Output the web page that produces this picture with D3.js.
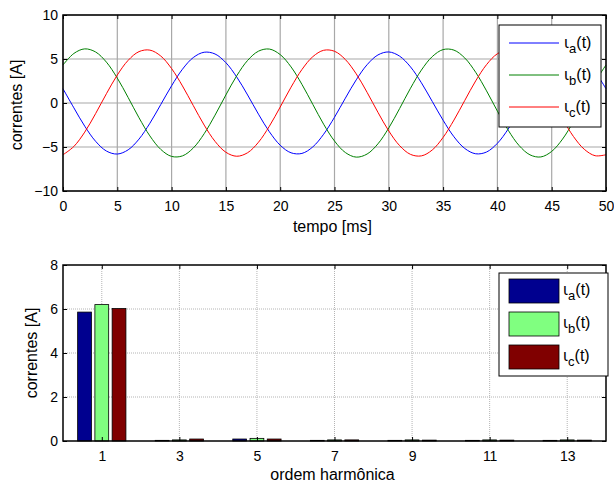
<!DOCTYPE html>
<html>
<head>
<meta charset="utf-8">
<script src="https://cdn.jsdelivr.net/npm/d3@7"></script>
<style>
  body { margin: 0; background: #fff; }
  text { font-family: "Liberation Sans", Arial, sans-serif; }
</style>
</head>
<body>
<div class="chart"></div>
<script>
// time axis, 1 ms steps
const tempo = d3.range(0, 51);
const ia = [1.62,-0.55,-2.63,-4.35,-5.46,-5.80,-5.32,-4.10,-2.30,-0.18,1.96,3.84,5.17,5.77,5.57,4.58,2.95,0.91,-1.27,-3.26,-4.80,-5.66,-5.73,-4.99,-3.55,-1.62,0.55,2.63,4.35,5.46,5.80,5.32,4.10,2.30,0.18,-1.96,-3.84,-5.17,-5.77,-5.57,-4.58,-2.95,-0.91,1.27,3.26,4.80,5.66,5.73,4.99,3.55,1.62];
const ib = [4.32,5.63,6.15,5.80,4.64,2.83,0.62,-1.68,-3.74,-5.27,-6.07,-6.01,-5.11,-3.49,-1.38,0.92,3.10,4.84,5.89,6.13,5.50,4.10,2.12,-0.15,-2.41,-4.32,-5.63,-6.15,-5.80,-4.64,-2.83,-0.62,1.68,3.74,5.27,6.07,6.01,5.11,3.49,1.38,-0.92,-3.10,-4.84,-5.89,-6.13,-5.50,-4.10,-2.12,0.15,2.41,4.32];
const ic = [-5.88,-4.94,-3.31,-1.21,1.06,3.18,4.85,5.84,6.01,5.34,3.91,1.94,-0.30,-2.51,-4.36,-5.60,-6.05,-5.65,-4.46,-2.64,-0.46,1.80,3.80,5.26,5.99,5.88,4.94,3.31,1.21,-1.06,-3.18,-4.85,-5.84,-6.01,-5.34,-3.91,-1.94,0.30,2.51,4.36,5.60,6.05,5.65,4.46,2.64,0.46,-1.80,-3.80,-5.26,-5.99,-5.88];

// harmonic spectrum
const ordem = [1, 3, 5, 7, 9, 11, 13];
const ha = [5.86, 0.03, 0.09, 0.03, 0.03, 0.03, 0.03];
const hb = [6.20, 0.05, 0.12, 0.05, 0.05, 0.05, 0.05];
const hc = [6.02, 0.09, 0.09, 0.05, 0.04, 0.04, 0.04];

const nomes = ["a", "b", "c"];
const coresLinha = ["#0000ff", "#008000", "#ff0000"];
const coresBarra = ["#00008f", "#80ff80", "#800000"];

const width = 614, height = 483;
const svg = d3.select('.chart').append('svg')
  .attr('width', width).attr('height', height);

function legendLabel(g, x, y, sub) {
  const t = g.append('text').attr('x', x).attr('y', y).attr('font-size', 16);
  t.append('tspan').attr('font-family', '"DejaVu Sans", sans-serif').attr('font-size', 15).text('ι');
  t.append('tspan').attr('dy', 5).attr('font-size', 13).text(sub);
  t.append('tspan').attr('dy', -5).text('(t)');
}

function frame(g, x, y, xTicks, yTicks, left, right, top, bottom, gridStyle) {
  g.append('g').selectAll('line').data(xTicks).enter().append('line')
    .attr('x1', d => x(d)).attr('x2', d => x(d)).attr('y1', top).attr('y2', bottom)
    .attr('stroke', gridStyle.color).attr('stroke-width', gridStyle.w)
    .attr('stroke-dasharray', gridStyle.dash);
  g.append('g').selectAll('line').data(yTicks).enter().append('line')
    .attr('x1', left).attr('x2', right).attr('y1', d => y(d)).attr('y2', d => y(d))
    .attr('stroke', gridStyle.color).attr('stroke-width', gridStyle.w)
    .attr('stroke-dasharray', gridStyle.dash);
}

function boxAndTicks(g, x, y, xTicks, yTicks, left, right, top, bottom) {
  const tl = 4;
  g.append('g').attr('transform', `translate(0,${bottom})`)
    .call(d3.axisBottom(x).tickValues(xTicks).tickSizeInner(-tl).tickSizeOuter(0).tickPadding(10))
    .call(a => a.select('.domain').remove());
  g.append('g').attr('transform', `translate(0,${top})`)
    .call(d3.axisTop(x).tickValues(xTicks).tickSizeInner(-tl).tickSizeOuter(0).tickFormat(''))
    .call(a => a.select('.domain').remove());
  g.append('g').attr('transform', `translate(${left},0)`)
    .call(d3.axisLeft(y).tickValues(yTicks).tickSizeInner(-tl).tickSizeOuter(0).tickPadding(5))
    .call(a => a.select('.domain').remove());
  g.append('g').attr('transform', `translate(${right},0)`)
    .call(d3.axisRight(y).tickValues(yTicks).tickSizeInner(-tl).tickSizeOuter(0).tickFormat(''))
    .call(a => a.select('.domain').remove());
  g.selectAll('.tick text').attr('font-size', 14).attr('fill', '#000')
    .attr('font-family', '"Liberation Sans", Arial, sans-serif');
  g.selectAll('.tick line').attr('stroke', '#000');
  g.append('rect').attr('x', left).attr('y', top)
    .attr('width', right - left).attr('height', bottom - top)
    .attr('fill', 'none').attr('stroke', '#000').attr('stroke-width', 1.5);
}

// ---------- top plot ----------
const L = 63, R = 606;
const top1 = 15, bot1 = 191;
const x1 = d3.scaleLinear().domain([0, 50]).range([L, R]);
const y1 = d3.scaleLinear().domain([-10, 10]).range([bot1, top1]);
const g1 = svg.append('g');
frame(g1, x1, y1, d3.range(0, 51, 5), [-10, -5, 0, 5, 10], L, R, top1, bot1,
  {color: '#a8a8a8', w: 1.2, dash: null});

const series = [ia, ib, ic];
const line = d3.line().x((d, i) => x1(tempo[i])).y(d => y1(d)).curve(d3.curveCatmullRom);
series.forEach((s, k) => {
  g1.append('path').datum(s).attr('d', line)
    .attr('fill', 'none').attr('stroke', coresLinha[k]).attr('stroke-width', 1);
});
boxAndTicks(g1, x1, y1, d3.range(0, 51, 5), [-10, -5, 0, 5, 10], L, R, top1, bot1);

g1.append('text').attr('x', (L + R) / 2 - 2).attr('y', 232).attr('text-anchor', 'middle')
  .attr('font-size', 16).text('tempo [ms]');
g1.append('text').attr('transform', `translate(22,${(top1 + bot1) / 2 + 2}) rotate(-90)`)
  .attr('text-anchor', 'middle').attr('font-size', 16).text('correntes [A]');

// legend top
const lg1 = g1.append('g');
lg1.append('rect').attr('x', 499).attr('y', 25).attr('width', 102).attr('height', 102)
  .attr('fill', '#fff').attr('stroke', '#000').attr('stroke-width', 1);
nomes.forEach((n, k) => {
  const yy = 43 + k * 32;
  lg1.append('line').attr('x1', 509).attr('x2', 559).attr('y1', yy).attr('y2', yy)
    .attr('stroke', coresLinha[k]).attr('stroke-width', 1);
  legendLabel(lg1, 564, yy + 5, n);
});

// ---------- bottom plot ----------
const top2 = 265, bot2 = 441;
const x2 = d3.scaleLinear().domain([0, 14]).range([L, R]);
const y2 = d3.scaleLinear().domain([0, 8]).range([bot2, top2]);
const g2 = svg.append('g');
frame(g2, x2, y2, ordem, [2, 4, 6], L, R, top2, bot2,
  {color: '#b4b4b4', w: 1, dash: '1,1'});

const harm = [ha, hb, hc];
const slot = 2 * 0.667 / 3;
const bw = slot * 0.8;
harm.forEach((h, k) => {
  g2.append('g').selectAll('rect').data(h).enter().append('rect')
    .attr('x', (d, i) => x2(ordem[i] + (k - 1) * slot - bw / 2))
    .attr('width', x2(bw) - x2(0))
    .attr('y', d => y2(d))
    .attr('height', d => y2(0) - y2(d))
    .attr('fill', coresBarra[k]).attr('stroke', '#000').attr('stroke-width', 0.8);
});
boxAndTicks(g2, x2, y2, ordem, [0, 2, 4, 6, 8], L, R, top2, bot2);

g2.append('text').attr('x', (L + R) / 2 - 2).attr('y', 480).attr('text-anchor', 'middle')
  .attr('font-size', 16).text('ordem harmônica');
g2.append('text').attr('transform', `translate(37,${(top2 + bot2) / 2}) rotate(-90)`)
  .attr('text-anchor', 'middle').attr('font-size', 16).text('correntes [A]');

// legend bottom
const lg2 = g2.append('g');
lg2.append('rect').attr('x', 499).attr('y', 273).attr('width', 109).attr('height', 103)
  .attr('fill', '#fff').attr('stroke', '#000').attr('stroke-width', 1);
nomes.forEach((n, k) => {
  const yy = 279 + k * 33;
  lg2.append('rect').attr('x', 509).attr('y', yy).attr('width', 50).attr('height', 24)
    .attr('fill', coresBarra[k]).attr('stroke', '#000').attr('stroke-width', 0.8);
  legendLabel(lg2, 563, yy + 16, n);
});
</script>
</body>
</html>
